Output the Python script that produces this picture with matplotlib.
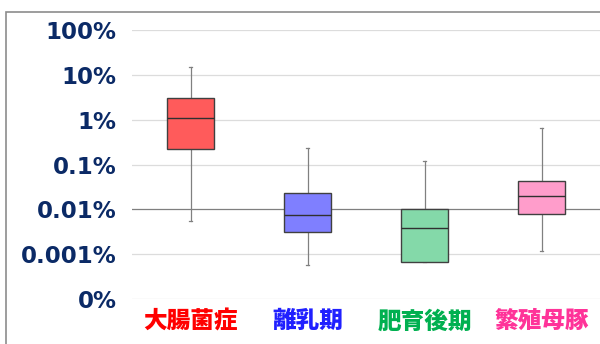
import numpy as np
import matplotlib
matplotlib.use('Agg')
import matplotlib.pyplot as plt
from matplotlib.patches import Rectangle

# data (percent)
categories = ['大腸菌症', '離乳期', '肥育後期', '繁殖母豚']
whislo = [0.0054, 0.00057, 0.00067, 0.00119]
q1 = [0.22, 0.0031, 0.00067, 0.0077]
med = [1.07, 0.0076, 0.0039, 0.020]
q3 = [3.0, 0.0226, 0.010, 0.0426]
whishi = [14.7, 0.236, 0.119, 0.64]
box_colors = ['#FF5B5B', '#7F7FFF', '#84D9A9', '#FF9DCB']
label_colors = ['#FF0000', '#2020FF', '#00B050', '#FF3399']
yticks = [0.0001, 0.001, 0.01, 0.1, 1, 10, 100]
yticklabels = ['0%', '0.001%', '0.01%', '0.1%', '1%', '10%', '100%']

fig = plt.figure(figsize=(6, 3.44), dpi=100)
ax = fig.add_axes([0.22, 1 - 299/344, 0.78, (299 - 30)/344])

stats = []
for i in range(len(categories)):
    stats.append(dict(whislo=whislo[i], q1=q1[i], med=med[i], q3=q3[i],
                      whishi=whishi[i], fliers=[]))

ax.set_yscale('log')
ax.set_ylim(0.0001, 100)
ax.set_xlim(0.5, 4.5)

# grid
for t in yticks:
    c = '#7F7F7F' if t == 0.01 else '#DCDCDC'
    ax.axhline(t, color=c, lw=0.9, zorder=0)

bp = ax.bxp(stats, positions=[1, 2, 3, 4], widths=0.4, patch_artist=True,
            showfliers=False,
            boxprops=dict(edgecolor='#404040', lw=1.0),
            medianprops=dict(color='#303030', lw=1.0),
            whiskerprops=dict(color='#808080', lw=0.9),
            capprops=dict(color='#808080', lw=0.9),
            capwidths=0.03)
for patch, c in zip(bp['boxes'], box_colors):
    patch.set_facecolor(c)
    patch.set_zorder(3)
for m in bp['medians']:
    m.set_zorder(4)

ax.set_yticks(yticks)
ax.set_yticklabels(yticklabels, fontsize=16.5, fontweight='bold', color='#0B2A66')
ax.minorticks_off()
ax.set_xticks([1, 2, 3, 4])
ax.set_xticklabels(categories, fontsize=17, fontweight='heavy',
                   family=['Noto Sans CJK JP', 'DejaVu Sans'])
for lbl, c in zip(ax.get_xticklabels(), label_colors):
    lbl.set_color(c)
ax.tick_params(axis='y', length=0, pad=11)
ax.tick_params(axis='x', length=0, pad=7)
for s in ax.spines.values():
    s.set_visible(False)

# outer frame
fig.patches.append(Rectangle((6/600, -0.1), 1.2, 1.1 - 12/344, transform=fig.transFigure,
                             fill=False, edgecolor='#8C8C8C', lw=1.2))

fig.savefig('out.png', dpi=100)
